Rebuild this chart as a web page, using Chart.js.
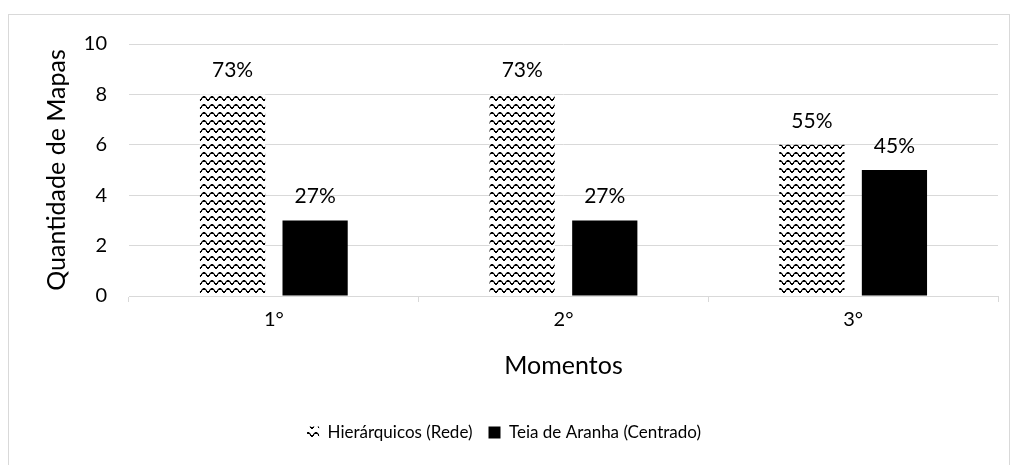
<!DOCTYPE html>
<html>
<head>
<meta charset="utf-8">
<script src="https://cdn.jsdelivr.net/npm/chart.js@4"></script>
<style>
html,body{margin:0;padding:0;background:#fff;}
#wrap{position:relative;width:1011px;height:465px;}
</style>
</head>
<body>
<div id="wrap"><canvas id="c" width="1011" height="465"></canvas></div>
<script>
const categories = ['1°', '2°', '3°'];
const hierarquicos = [8, 8, 6];
const teia = [3, 3, 5];
const hierLabels = ['73%', '73%', '55%'];
const teiaLabels = ['27%', '27%', '45%'];
const yTicks = [0, 2, 4, 6, 8, 10];
const seriesNames = ['Hierárquicos (Rede)', 'Teia de Aranha (Centrado)'];

const FONT = 'Lato, "Open Sans", sans-serif';

function wavePattern() {
  const t = document.createElement('canvas');
  t.width = 8; t.height = 8;
  const g = t.getContext('2d');
  g.fillStyle = '#fff';
  g.fillRect(0, 0, 8, 8);
  g.fillStyle = '#000';
  [[3,0],[4,0],[2,1],[5,1],[1,2],[6,2],[0,3],[7,3],
   [3,1],[4,1],[1,3],[6,3],[0,4],[7,4]].forEach(p => g.fillRect(p[0], p[1], 1, 1));
  g.fillStyle = '#aaa';
  [[2,0],[5,0],[2,2],[5,2],[1,1],[6,1]].forEach(p => g.fillRect(p[0], p[1], 1, 1));
  return g.createPattern(t, 'repeat');
}

const ctx = document.getElementById('c').getContext('2d');
const pat = wavePattern();

const frame = {
  id: 'frame',
  beforeDraw(chart) {
    const c = chart.ctx;
    c.save();
    c.fillStyle = '#fff';
    c.fillRect(0, 0, chart.width, chart.height);
    c.strokeStyle = '#d9d9d9';
    c.lineWidth = 1;
    c.strokeRect(8.5, 14.5, 1001, 470);
    c.restore();
  }
};

const valueLabels = {
  id: 'valueLabels',
  afterDatasetsDraw(chart) {
    const c = chart.ctx;
    const lists = [hierLabels, teiaLabels];
    c.save();
    c.font = '21px ' + FONT;
    c.fillStyle = '#000';
    c.textAlign = 'center';
    c.textBaseline = 'middle';
    chart.data.datasets.forEach((ds, i) => {
      chart.getDatasetMeta(i).data.forEach((bar, j) => {
        c.fillText(lists[i][j], bar.x, bar.y - 24);
      });
    });
    c.restore();
  }
};

new Chart(ctx, {
  type: 'bar',
  data: {
    labels: categories,
    datasets: [
      { label: seriesNames[0], data: hierarquicos, backgroundColor: pat, borderWidth: 0 },
      { label: seriesNames[1], data: teia, backgroundColor: '#000', borderWidth: 0 }
    ]
  },
  options: {
    responsive: false,
    animation: false,
    devicePixelRatio: 1,
    categoryPercentage: 0.57,
    barPercentage: 0.79,
    layout: { padding: { left: 10, top: 44, right: 13, bottom: 14 } },
    plugins: {
      legend: {
        position: 'bottom',
        labels: {
          font: { family: FONT, size: 17 },
          color: '#000',
          boxWidth: 12,
          boxHeight: 12,
          padding: 16
        }
      },
      tooltip: { enabled: false }
    },
    scales: {
      x: {
        afterFit(s) { s.height = 112; },
        grid: { display: true, drawOnChartArea: false, drawTicks: true, tickLength: 6, offset: true, color: '#d9d9d9' },
        border: { color: '#d9d9d9' },
        ticks: { font: { family: FONT, size: 20 }, color: '#000', padding: 6 },
        title: { display: true, text: 'Momentos', font: { family: FONT, size: 25 }, color: '#000', padding: { top: 14, bottom: 27 } }
      },
      y: {
        min: 0, max: 10,
        afterBuildTicks(s) { s.ticks = yTicks.map(v => ({ value: v })); },
        afterFit(s) { s.width = 119; },
        grid: { color: '#d9d9d9', drawTicks: false },
        border: { display: false },
        ticks: { font: { family: FONT, size: 20 }, color: '#000', padding: 22 },
        title: { display: true, text: 'Quantidade de Mapas', font: { family: FONT, size: 25 }, color: '#000', padding: { top: 32, bottom: 0 } }
      }
    }
  },
  plugins: [frame, valueLabels]
});
</script>
</body>
</html>
